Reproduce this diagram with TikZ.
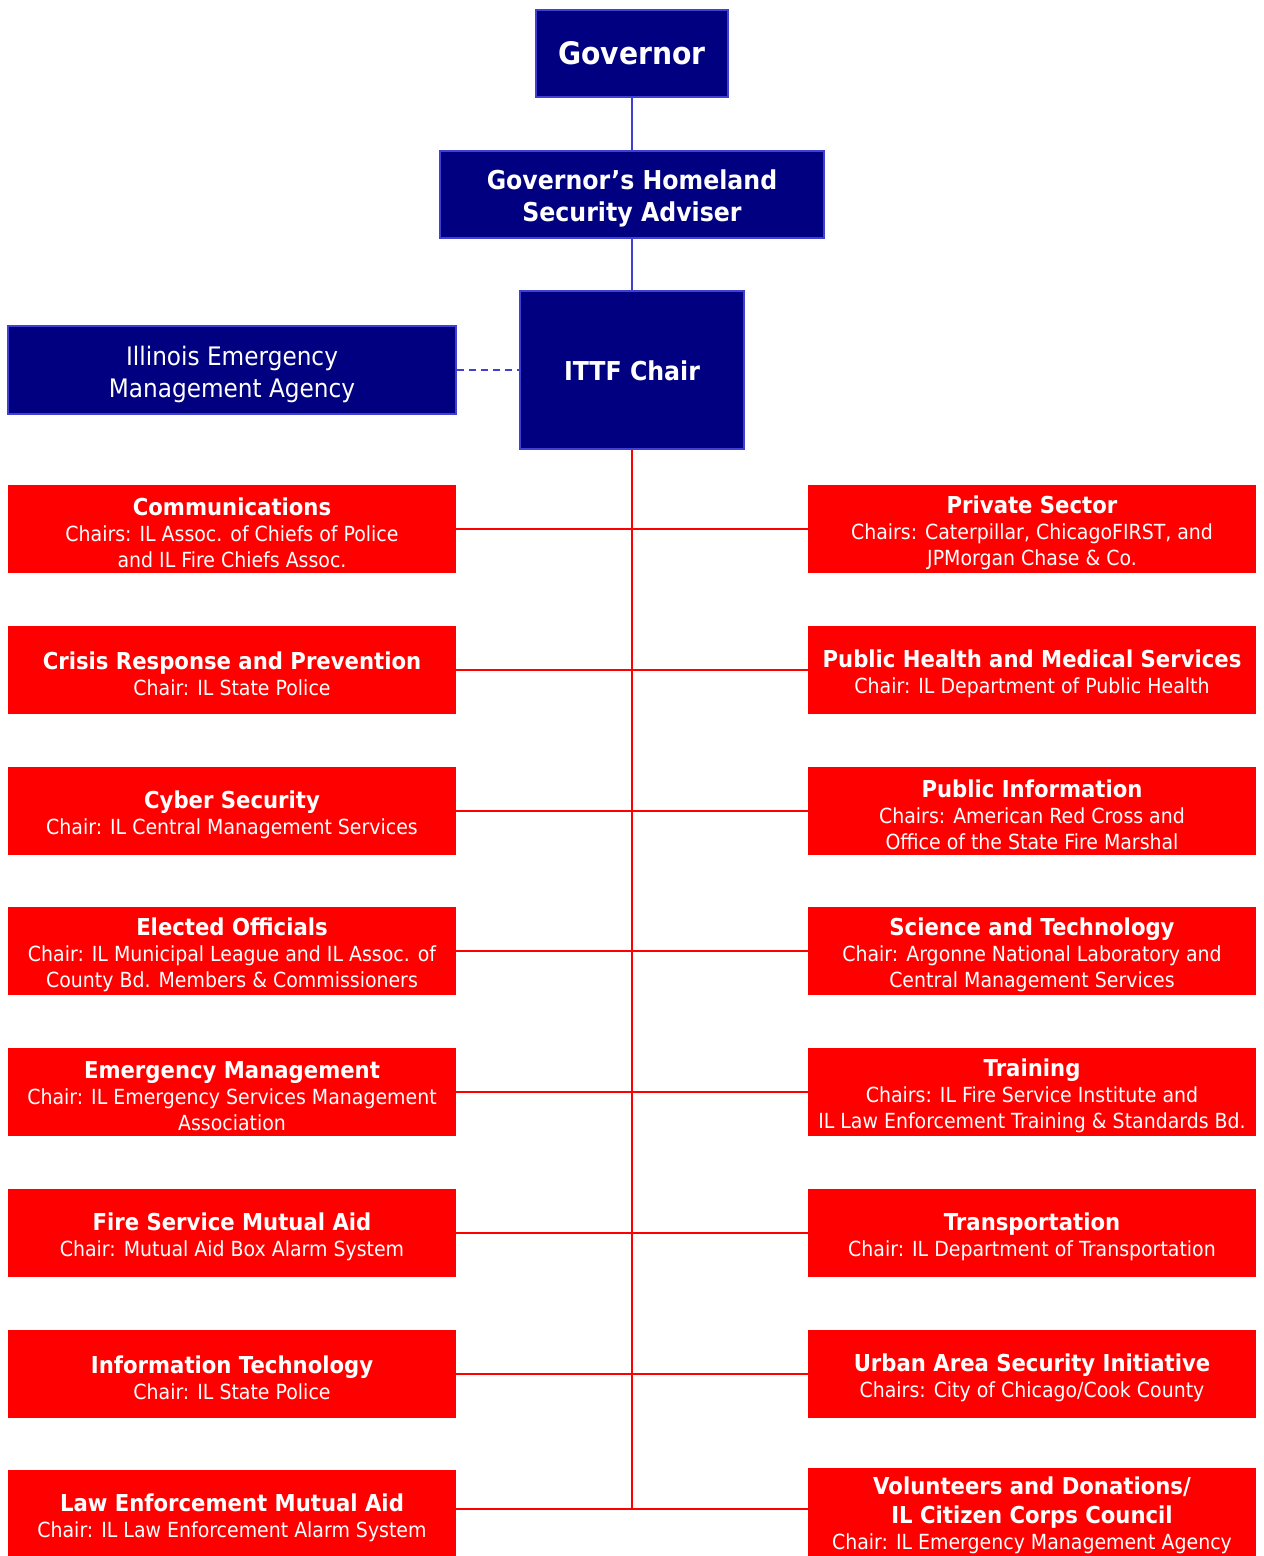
\documentclass[tikz,border=0pt]{standalone}
\usepackage{fontspec}
\setmainfont{DejaVu Sans}[FakeStretch=0.91]
\definecolor{navyfill}{RGB}{0,0,128}
\definecolor{navyedge}{RGB}{64,64,210}
\definecolor{redfill}{RGB}{255,0,0}
\newcommand\lowstrut[1]{\rule{0pt}{#1}}
\newcommand\ttlb[1]{{\fontsize{23.3}{27}\selectfont\bfseries #1}}
\newcommand\ttl[1]{\lowstrut{25pt}\ttlb{#1}}
\tikzset{
  navybox/.style={draw=navyedge, fill=navyfill, line width=1.5pt, text=white, inner sep=0pt, align=center},
  redbox/.style={fill=redfill, text=white, inner sep=0pt, align=center, minimum width=448pt, minimum height=88pt,
    font={\fontsize{20.8}{26}\selectfont}},
  blueline/.style={draw=navyedge, line width=1.8pt},
  redline/.style={draw=redfill, line width=1.8pt}
}
\begin{document}
\begin{tikzpicture}[x=1pt,y=-1pt]
\useasboundingbox (0,0) rectangle (1264,1556);
% top hierarchy
\node[navybox, minimum width=192pt, minimum height=87pt, font={\fontsize{31}{36}\selectfont\bfseries}] (gov) at (632,53.5) {Governor};
\node[navybox, minimum width=384pt, minimum height=87pt, font={\fontsize{26}{32}\selectfont\bfseries}] (ghsa) at (632,194.5) {\lowstrut{28pt}Governor’s Homeland\\Security Adviser};
\node[navybox, minimum width=224pt, minimum height=158pt, font={\fontsize{26}{32}\selectfont\bfseries}] (ittf) at (632,370) {\lowstrut{22pt}ITTF Chair};
\node[navybox, minimum width=448pt, minimum height=88pt, font={\fontsize{25.5}{32}\selectfont}] (iema) at (232,370) {\lowstrut{27.5pt}Illinois Emergency\\Management Agency};
\draw[blueline] (gov.south) -- (ghsa.north);
\draw[blueline] (ghsa.south) -- (ittf.north);
\draw[blueline, dashed, dash pattern=on 7pt off 5pt] (iema.east) -- (ittf.west);
% left column
\node[redbox] (l1) at (232,529) {\ttl{Communications}\\Chairs: IL Assoc. of Chiefs of Police\\and IL Fire Chiefs Assoc.};
\node[redbox] (l2) at (232,670) {\ttl{Crisis Response and Prevention}\\Chair: IL State Police};
\node[redbox] (l3) at (232,811) {\ttl{Cyber Security}\\Chair: IL Central Management Services};
\node[redbox] (l4) at (232,951) {\ttl{Elected Officials}\\Chair: IL Municipal League and IL Assoc. of\\County Bd. Members \& Commissioners};
\node[redbox] (l5) at (232,1092) {\ttl{Emergency Management}\\Chair: IL Emergency Services Management\\Association};
\node[redbox] (l6) at (232,1233) {\ttl{Fire Service Mutual Aid}\\Chair: Mutual Aid Box Alarm System};
\node[redbox] (l7) at (232,1374) {\ttl{Information Technology}\\Chair: IL State Police};
\node[redbox] (l8) at (232,1514) {\ttl{Law Enforcement Mutual Aid}\\Chair: IL Law Enforcement Alarm System};
% right column
\node[redbox] (r1) at (1032,529) {\ttl{Private Sector}\\Chairs: Caterpillar, ChicagoFIRST, and\\JPMorgan Chase \& Co.};
\node[redbox] (r2) at (1032,670) {\ttl{Public Health and Medical Services}\\Chair: IL Department of Public Health};
\node[redbox] (r3) at (1032,811) {\ttl{Public Information}\\Chairs: American Red Cross and\\Office of the State Fire Marshal};
\node[redbox] (r4) at (1032,951) {\ttl{Science and Technology}\\Chair: Argonne National Laboratory and\\Central Management Services};
\node[redbox] (r5) at (1032,1092) {\ttl{Training}\\Chairs: IL Fire Service Institute and\\IL Law Enforcement Training \& Standards Bd.};
\node[redbox] (r6) at (1032,1233) {\ttl{Transportation}\\Chair: IL Department of Transportation};
\node[redbox] (r7) at (1032,1374) {\ttl{Urban Area Security Initiative}\\Chairs: City of Chicago/Cook County};
\node[redbox] (r8) at (1032,1512) {\ttl{Volunteers and Donations/}\\[3pt]\ttlb{IL Citizen Corps Council}\\Chair: IL Emergency Management Agency};
% connectors
\coordinate (bot) at (632,1509);
\draw[redline] (ittf.south) -- (bot);
\foreach \i in {1,...,7} { \draw[redline] (l\i.east) -- (r\i.west); }
\draw[redline] (l8.east |- bot) -- (r8.west |- bot);
\end{tikzpicture}
\end{document}
